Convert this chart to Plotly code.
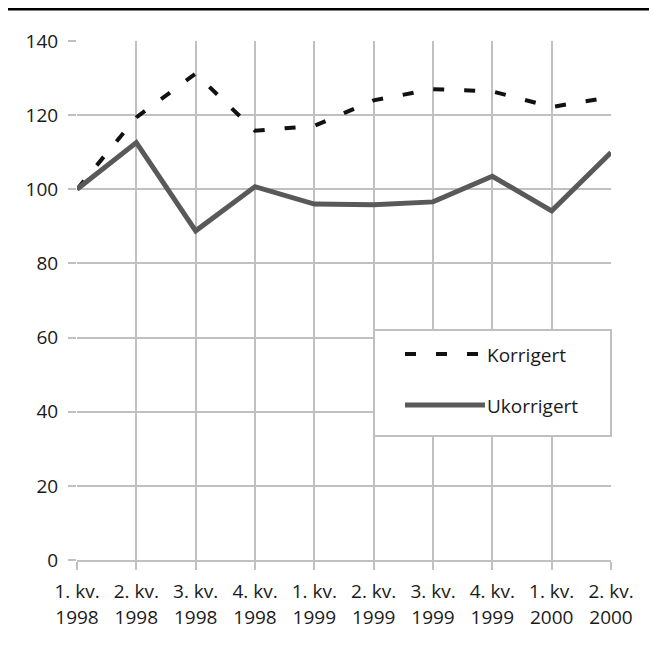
import plotly.graph_objects as go

# ---- data ----
quarters = ["1. kv.", "2. kv.", "3. kv.", "4. kv.", "1. kv.", "2. kv.", "3. kv.", "4. kv.", "1. kv.", "2. kv."]
years = ["1998", "1998", "1998", "1998", "1999", "1999", "1999", "1999", "2000", "2000"]
korrigert = [100, 119.4, 131.2, 115.8, 117.1, 124.0, 127.0, 126.4, 122.2, 124.9]
ukorrigert = [100, 112.6, 88.8, 100.7, 96.0, 95.8, 96.6, 103.5, 94.2, 109.9]
y_ticks = [0, 20, 40, 60, 80, 100, 120, 140]
series_names = ["Korrigert", "Ukorrigert"]

x_idx = list(range(len(quarters)))

W, H = 657, 649
L, R, T, B = 69, 54, 33, 97
PW, PH = W - L - R, H - T - B
OFF = 8  # page body margin


def px(sx):
    return (sx - OFF - L) / PW


def py(sy):
    return (H - B - (sy - OFF)) / PH


FONT = "Open Sans"
FS = 19
GRID = "#c0c0c0"
TXT = "#1a1a1a"
DASH = "11px,20px"

fig = go.Figure()
fig.add_trace(go.Scatter(x=x_idx, y=korrigert, mode="lines", name=series_names[0],
                         line=dict(color="#111111", width=4, dash=DASH), showlegend=False))
fig.add_trace(go.Scatter(x=x_idx, y=ukorrigert, mode="lines", name=series_names[1],
                         line=dict(color="#595959", width=5), showlegend=False))
# helper (empty) trace for the year-label axis
fig.add_trace(go.Scatter(x=[], y=[], xaxis="x2", yaxis="y", showlegend=False, hoverinfo="skip"))

xr = [0, len(quarters) - 1]
fig.update_layout(
    width=W, height=H,
    margin=dict(l=L, r=R, t=T, b=B, pad=0),
    paper_bgcolor="white", plot_bgcolor="white",
    font=dict(family=FONT, size=FS, color=TXT),
    xaxis=dict(range=xr, tickmode="array", tickvals=x_idx, ticktext=quarters,
               showgrid=True, gridcolor=GRID, gridwidth=2, zeroline=False,
               showline=True, linecolor=GRID, linewidth=2,
               ticks="outside", ticklen=8, tickwidth=2, tickcolor=GRID,
               tickfont=dict(family=FONT, size=FS, color=TXT), ticklabelstandoff=5),
    xaxis2=dict(range=xr, tickmode="array", tickvals=x_idx, ticktext=years,
                overlaying="x", anchor="y", side="bottom",
                showgrid=False, zeroline=False, showline=False,
                ticks="outside", ticklen=8, tickwidth=0, tickcolor="rgba(0,0,0,0)",
                tickfont=dict(family=FONT, size=FS, color=TXT), ticklabelstandoff=32),
    yaxis=dict(range=[0, 140], tickmode="array", tickvals=y_ticks,
               showgrid=True, gridcolor=GRID, gridwidth=2, zeroline=False,
               showline=False,
               ticks="outside", ticklen=8, tickwidth=2, tickcolor=GRID,
               tickfont=dict(family=FONT, size=FS, color=TXT), ticklabelstandoff=6),
    showlegend=False,
)

shapes = []
# top rule
shapes.append(dict(type="line", xref="paper", yref="paper", x0=px(6), x1=px(700), y0=py(9), y1=py(9),
                   line=dict(color="black", width=3)))
# legend box
shapes.append(dict(type="rect", xref="paper", yref="paper", x0=px(374), x1=px(611), y0=py(436), y1=py(330),
                   line=dict(color=GRID, width=2), fillcolor="white", layer="above"))
# legend symbols
shapes.append(dict(type="line", xref="paper", yref="paper", x0=px(405), x1=px(485), y0=py(354), y1=py(354),
                   line=dict(color="#111111", width=4, dash=DASH), layer="above"))
shapes.append(dict(type="line", xref="paper", yref="paper", x0=px(405), x1=px(485), y0=py(405), y1=py(405),
                   line=dict(color="#595959", width=5), layer="above"))
fig.update_layout(shapes=shapes)

for name, yy in zip(series_names, [355, 406]):
    fig.add_annotation(x=px(485), y=py(yy), xref="paper", yref="paper", text=name, showarrow=False,
                       xanchor="left", yanchor="middle", font=dict(family=FONT, size=FS, color=TXT))

fig.write_html("out.html")
